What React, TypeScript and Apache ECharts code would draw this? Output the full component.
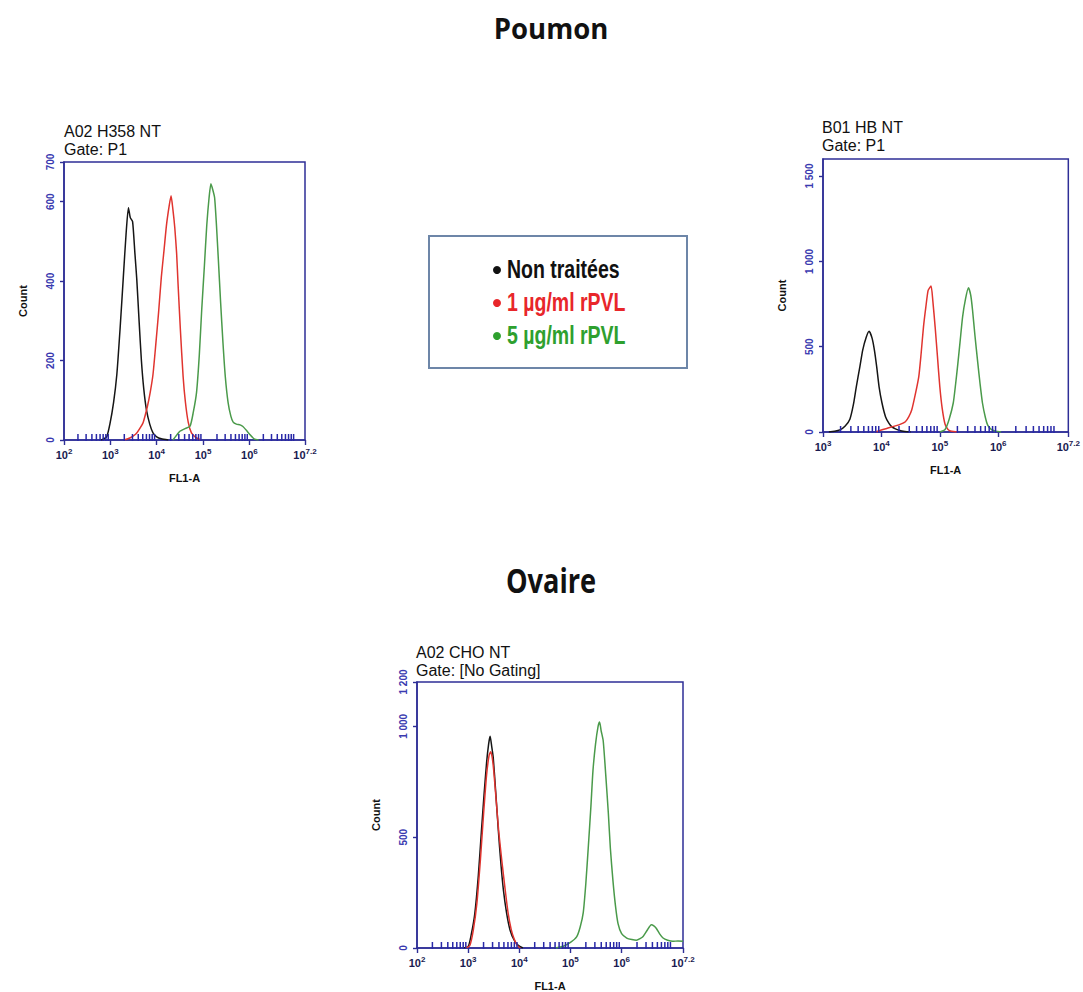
import React, { useEffect, useRef } from "react";
import * as echarts from "echarts";

// ---------- DATA ----------
const SERIES_NAMES = ["Non traitées", "1 µg/ml rPVL", "5 µg/ml rPVL"];
const LINE_COLORS = ["#151515", "#e0342f", "#4a9a4a"];
const LEGEND_COLORS = ["#111111", "#e8262a", "#2ea02e"];

// x values are log10(FL1-A)
const h358Black = [[2.8,0],[2.92,8],[2.99,40],[3.07,95],[3.14,165],[3.21,280],[3.28,410],[3.34,520],[3.39,585],[3.43,560],[3.48,550],[3.53,470],[3.57,405],[3.62,300],[3.67,200],[3.72,130],[3.78,75],[3.85,40],[3.92,18],[4.0,8],[4.1,3],[4.25,0]];
const h358Red = [[3.3,0],[3.42,5],[3.55,15],[3.63,28],[3.71,45],[3.8,85],[3.86,120],[3.92,165],[3.98,240],[4.04,320],[4.1,410],[4.16,480],[4.21,540],[4.27,590],[4.31,615],[4.35,580],[4.39,535],[4.43,470],[4.46,395],[4.51,280],[4.57,160],[4.62,95],[4.68,45],[4.75,18],[4.85,6],[4.95,0]];
const h358Green = [[4.35,0],[4.45,15],[4.5,22],[4.6,28],[4.72,35],[4.79,70],[4.86,120],[4.92,215],[4.97,325],[5.03,440],[5.08,540],[5.13,610],[5.17,645],[5.21,630],[5.25,610],[5.29,540],[5.33,455],[5.38,345],[5.43,245],[5.48,160],[5.54,95],[5.6,60],[5.65,45],[5.72,40],[5.8,38],[5.86,34],[5.93,25],[6.0,15],[6.1,3],[6.2,0]];

const hbBlack = [[3.1,0],[3.2,4],[3.29,12],[3.38,35],[3.46,75],[3.52,160],[3.57,265],[3.63,380],[3.68,480],[3.74,555],[3.79,590],[3.84,550],[3.88,480],[3.92,380],[3.96,265],[4.01,170],[4.07,90],[4.13,50],[4.18,30],[4.24,18],[4.3,10],[4.4,3],[4.5,0]];
const hbRed = [[3.9,0],[4.0,12],[4.1,22],[4.18,30],[4.3,42],[4.41,60],[4.47,90],[4.52,130],[4.58,220],[4.64,325],[4.68,460],[4.72,615],[4.76,730],[4.8,830],[4.85,855],[4.88,770],[4.92,615],[4.96,440],[5.0,265],[5.04,140],[5.09,45],[5.14,15],[5.2,4],[5.3,0]];
const hbGreen = [[5.0,0],[5.09,15],[5.16,75],[5.23,170],[5.27,280],[5.31,405],[5.35,540],[5.39,675],[5.44,780],[5.49,845],[5.53,800],[5.56,715],[5.6,570],[5.65,405],[5.69,280],[5.73,170],[5.78,85],[5.82,40],[5.88,15],[5.95,5],[6.05,0]];

const choBlack = [[2.9,0],[3.0,6],[3.06,60],[3.13,155],[3.2,330],[3.26,530],[3.31,690],[3.36,835],[3.4,920],[3.43,955],[3.46,910],[3.49,860],[3.54,700],[3.59,530],[3.64,380],[3.69,260],[3.75,160],[3.82,80],[3.9,35],[3.98,12],[4.07,0]];
const choRed = [[2.95,0],[3.03,10],[3.1,80],[3.17,200],[3.24,400],[3.3,600],[3.36,780],[3.41,870],[3.44,885],[3.47,860],[3.5,800],[3.55,660],[3.6,520],[3.66,390],[3.72,270],[3.78,160],[3.84,85],[3.9,40],[3.96,12],[4.02,0]];
const choGreen = [[4.7,0],[4.86,8],[5.0,25],[5.12,50],[5.19,95],[5.25,160],[5.3,290],[5.35,460],[5.4,640],[5.44,800],[5.49,920],[5.54,1000],[5.57,1020],[5.6,980],[5.64,935],[5.69,780],[5.74,610],[5.78,450],[5.83,305],[5.88,190],[5.93,110],[6.0,65],[6.1,45],[6.2,38],[6.29,35],[6.36,42],[6.42,52],[6.5,80],[6.58,105],[6.63,100],[6.68,88],[6.74,65],[6.81,45],[6.9,35],[7.0,30],[7.1,32],[7.2,30]];

// axis ticks
const p1XTicks = [2, 3, 4, 5, 6, 7.2];
const p2XTicks = [3, 4, 5, 6, 7.2];
const p3XTicks = [2, 3, 4, 5, 6, 7.2];
const p1YTicks = [0, 200, 400, 600, 700];
const p2YTicks = [0, 500, 1000, 1500];
const p3YTicks = [0, 500, 1000, 1200];
const p1Decades = [2, 3, 4, 5, 6, 7];
const p2Decades = [3, 4, 5, 6, 7];
const p3Decades = [2, 3, 4, 5, 6, 7];

const panels = [
  { header: "A02 H358 NT\nGate: P1", xMin: 2, xMax: 7.2, yMax: 700, xTicks: p1XTicks, yTicks: p1YTicks, decades: p1Decades, curves: [h358Black, h358Red, h358Green],
    grid: { left: 64, top: 162, width: 241, height: 278 }, headerPos: [64, 122] },
  { header: "B01 HB NT\nGate: P1", xMin: 3, xMax: 7.2, yMax: 1600, xTicks: p2XTicks, yTicks: p2YTicks, decades: p2Decades, curves: [hbBlack, hbRed, hbGreen],
    grid: { left: 823, top: 159, width: 249, height: 273 }, headerPos: [822, 118] },
  { header: "A02 CHO NT\nGate: [No Gating]", xMin: 2, xMax: 7.2, yMax: 1200, xTicks: p3XTicks, yTicks: p3YTicks, decades: p3Decades, curves: [choBlack, choRed, choGreen],
    grid: { left: 417, top: 682, width: 266, height: 266 }, headerPos: [416, 643] },
];

const FRAME = "#2e2e96";
const YLAB = "#3a3ab0";
const SANS = "Liberation Sans, Arial, sans-serif";

function fmtY(v: number) {
  if (v >= 1000) {
    const s = String(v);
    return s.slice(0, s.length - 3) + " " + s.slice(s.length - 3);
  }
  return String(v);
}

export default function App() {
  const ref = useRef<HTMLDivElement>(null);
  useEffect(() => {
    if (!ref.current) return;
    const chart = echarts.init(ref.current, null, { renderer: "svg" });

    const grids: any[] = [];
    const xAxes: any[] = [];
    const yAxes: any[] = [];
    const series: any[] = [];
    const graphics: any[] = [];

    panels.forEach((p, i) => {
      grids.push({ ...p.grid, show: true, borderColor: FRAME, borderWidth: 1.5, backgroundColor: "#ffffff" });
      xAxes.push({
        gridIndex: i, type: "value", min: p.xMin, max: p.xMax,
        name: "FL1-A", nameLocation: "middle", nameGap: 32,
        nameTextStyle: { fontSize: 11, fontWeight: "bold", color: "#111", fontFamily: SANS },
        axisLine: { show: true, onZero: false, lineStyle: { color: FRAME, width: 1.5 } },
        axisTick: { show: true, inside: false, length: 5, customValues: p.xTicks, lineStyle: { color: FRAME, width: 1.4 } },
        axisLabel: {
          customValues: p.xTicks, margin: 7, showMinLabel: true, showMaxLabel: true,
          formatter: (v: number) => `{b|10}{s|${Math.round(v * 10) / 10}}`,
          rich: {
            b: { fontSize: 11, fontWeight: "bold", color: "#1a1a50", fontFamily: SANS },
            s: { fontSize: 8, fontWeight: "bold", color: "#1a1a50", padding: [0, 0, 7, 0], fontFamily: SANS },
          },
        },
        splitLine: { show: false },
      });
      yAxes.push({
        gridIndex: i, type: "value", min: 0, max: p.yMax,
        name: "Count", nameLocation: "middle", nameGap: 36, nameRotate: 90,
        nameTextStyle: { fontSize: 11, fontWeight: "bold", color: "#111", fontFamily: SANS },
        axisLine: { show: true, lineStyle: { color: FRAME, width: 1.5 } },
        axisTick: { show: true, inside: false, length: 4, customValues: p.yTicks, lineStyle: { color: FRAME, width: 1.4 } },
        axisLabel: {
          customValues: p.yTicks, rotate: 90, margin: 9, fontSize: 10, fontWeight: "bold", color: YLAB,
          fontFamily: SANS, formatter: (v: number) => fmtY(v),
        },
        splitLine: { show: false },
      });
      p.curves.forEach((c, k) => {
        series.push({
          type: "line", name: SERIES_NAMES[k], xAxisIndex: i, yAxisIndex: i,
          data: c, showSymbol: false, symbol: "none", smooth: 0.2,
          lineStyle: { color: LINE_COLORS[k], width: 1.5 }, itemStyle: { color: LINE_COLORS[k] },
          z: 3,
        });
      });
      // log minor ticks
      const xMax = p.xMax;
      series.push({
        type: "custom", xAxisIndex: i, yAxisIndex: i, silent: true, z: 4,
        data: p.decades.map((d) => [d, 0]),
        renderItem: (params: any, api: any) => {
          const d = api.value(0);
          const children: any[] = [];
          for (let k = 2; k <= 9; k++) {
            const lv = d + Math.log10(k);
            if (lv >= xMax) break;
            const pt = api.coord([lv, 0]);
            children.push({
              type: "line",
              shape: { x1: pt[0], y1: pt[1] - 6, x2: pt[0], y2: pt[1] + 1 },
              style: { stroke: "#2828a8", lineWidth: 1.5 },
            });
          }
          return { type: "group", children };
        },
      });
      graphics.push({
        type: "text", x: p.headerPos[0], y: p.headerPos[1],
        style: { text: p.header, fontSize: 16, lineHeight: 18, fill: "#111", fontFamily: SANS },
      });
    });

    // section titles
    graphics.push({
      type: "text", x: 551, y: 28, scaleX: 0.95,
      style: { text: "Poumon", fontSize: 29, fontWeight: "bold", fill: "#111", align: "center", verticalAlign: "middle", fontFamily: "Open Sans, sans-serif" },
    });
    graphics.push({
      type: "text", x: 551, y: 580, scaleX: 0.8,
      style: { text: "Ovaire", fontSize: 34, fontWeight: "bold", fill: "#111", align: "center", verticalAlign: "middle", fontFamily: "Open Sans, sans-serif" },
    });
    // legend box and entries
    graphics.push({
      type: "rect", shape: { x: 429, y: 236, width: 258, height: 132 },
      style: { fill: "#ffffff", stroke: "#6d86a8", lineWidth: 2 }, z: -1,
    });
    const legendRows = [270, 303, 336];
    SERIES_NAMES.forEach((n, k) => {
      graphics.push({
        type: "circle", shape: { cx: 497, cy: legendRows[k], r: 4 },
        style: { fill: LEGEND_COLORS[k] },
      });
      graphics.push({
        type: "text", x: 507, y: legendRows[k], scaleX: 0.78,
        style: { text: n, fontSize: 25, fontWeight: "bold", fill: LEGEND_COLORS[k], verticalAlign: "middle", fontFamily: SANS },
      });
    });

    chart.setOption({
      animation: false,
      backgroundColor: "#ffffff",
      grid: grids,
      xAxis: xAxes,
      yAxis: yAxes,
      series,
      graphic: graphics,
    });
    return () => chart.dispose();
  }, []);
  return <div ref={ref} style={{ position: "fixed", left: 0, top: 0, width: 1083, height: 992 }} />;
}
